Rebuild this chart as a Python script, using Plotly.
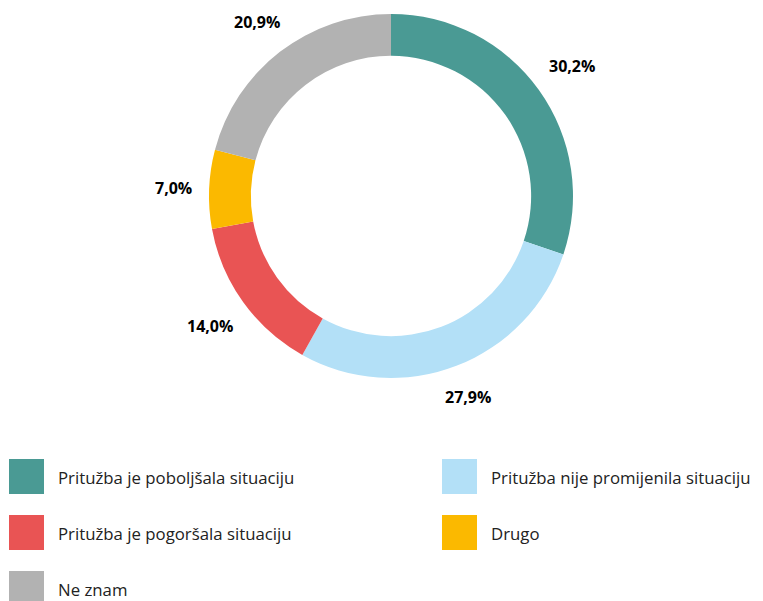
import math
import plotly.graph_objects as go

labels = ['Pritužba je poboljšala situaciju', 'Pritužba nije promijenila situaciju',
          'Pritužba je pogoršala situaciju', 'Drugo', 'Ne znam']
values = [30.2, 27.9, 14.0, 7.0, 20.9]
colors = ['#4A9A94', '#B3E0F7', '#E95454', '#FBB900', '#B2B2B2']

text = [f'{v:.1f}%'.replace('.', ',') for v in values]

W, H = 763, 601
OFF = 8  # page body margin pushes the plot 8px right/down
cx, cy, R = 391 - OFF, 196 - OFF, 182

fig = go.Figure(go.Pie(
    labels=labels, values=values,
    sort=False, direction='clockwise', rotation=0,
    hole=0.77,
    marker=dict(colors=colors, line=dict(width=0)),
    textinfo='none',
    domain=dict(x=[(cx - R) / W, (cx + R) / W], y=[1 - (cy + R) / H, 1 - (cy - R) / H]),
    showlegend=False, hoverinfo='label+text', text=text,
))

annotations = []

# percentage labels outside the ring, at each slice's middle angle
total = sum(values)
cum = 0
for v, t in zip(values, text):
    ang = 2 * math.pi * (cum + v / 2) / total
    cum += v
    s, c = math.sin(ang), -math.cos(ang)  # screen direction (y down)
    w, h = 8.8 * len(t), 15
    r = R + 18 + abs(s) * w / 2 + abs(c) * h / 2
    annotations.append(dict(text=f'<b>{t}</b>', xref='paper', yref='paper',
                            x=(cx + r * s) / W, y=1 - (cy + r * c) / H,
                            xanchor='center', yanchor='middle', showarrow=False,
                            font=dict(family='Open Sans', size=16, color='#000000')))

# hand-made legend with big square swatches, two columns
shapes = []
for k, lab in enumerate(labels):
    row, col = divmod(k, 2)
    x0 = 9 - OFF + col * 433
    y0 = 459 - OFF + row * 56
    shapes.append(dict(type='rect', xref='paper', yref='paper',
                       x0=x0 / W, x1=(x0 + 35) / W,
                       y0=1 - (y0 + 35) / H, y1=1 - y0 / H,
                       fillcolor=colors[k], line=dict(width=0)))
    annotations.append(dict(text=lab, xref='paper', yref='paper',
                            x=(x0 + 47) / W, y=1 - (y0 + 18) / H,
                            xanchor='left', yanchor='middle', showarrow=False,
                            font=dict(family='Open Sans', size=16.8, color='#222222')))

fig.update_layout(
    width=W, height=H,
    margin=dict(l=0, r=0, t=0, b=0),
    paper_bgcolor='white', plot_bgcolor='white',
    shapes=shapes, annotations=annotations,
)

fig.write_html('out.html')
